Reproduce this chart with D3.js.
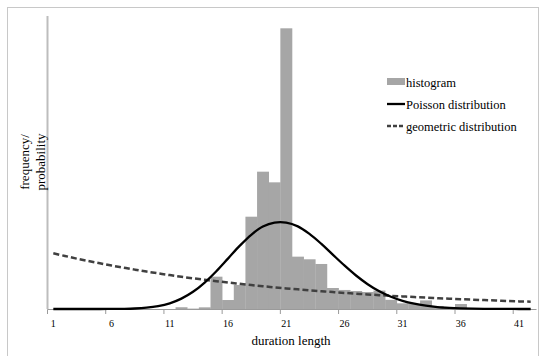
<!DOCTYPE html>
<html>
<head>
<meta charset="utf-8">
<script src="https://cdn.jsdelivr.net/npm/d3@7"></script>
<style>
  body { margin: 0; background: #fff; }
  text { font-family: "Liberation Serif", "Times New Roman", serif; fill: #000; }
</style>
</head>
<body>
<div id="chart"></div>
<script>
var svgWidth = 540;
var svgHeight = 356;

// categories 1..42 (duration length)
var categories = d3.range(1, 43);
var tickLabels = [1, 6, 11, 16, 21, 26, 31, 36, 41];

// histogram (relative frequency)
var histogram = [0, 0, 0, 0, 0, 0, 0, 0, 0, 0, 0, 0.0018, 0.0004, 0.0017, 0.0331, 0.0092,
  0.0246, 0.0945, 0.1406, 0.1297, 0.2874, 0.0536, 0.0509, 0.0461, 0.0215, 0.0195,
  0.0184, 0.0174, 0.0189, 0.0094, 0.0058, 0.0052, 0.0088, 0.0031, 0.0020, 0.0051,
  0.0005, 0, 0, 0, 0, 0];

// Poisson distribution
var poisson = [0, 0, 0, 0, 0, 0.0001, 0.0002, 0.0005, 0.0013, 0.0029, 0.0058, 0.0106,
  0.0176, 0.0271, 0.0387, 0.0516, 0.0646, 0.0760, 0.0844, 0.0884, 0.0884, 0.0846,
  0.0769, 0.0669, 0.0557, 0.0446, 0.0343, 0.0254, 0.0181, 0.0125, 0.0083, 0.0054,
  0.0034, 0.0020, 0.0012, 0.0007, 0.0004, 0.0002, 0.0001, 0.0001, 0, 0];

// geometric distribution
var geometric = [0.0570, 0.0543, 0.0516, 0.0491, 0.0468, 0.0445, 0.0424, 0.0403, 0.0383,
  0.0365, 0.0347, 0.0330, 0.0314, 0.0299, 0.0285, 0.0271, 0.0258, 0.0245, 0.0233,
  0.0222, 0.0211, 0.0201, 0.0191, 0.0182, 0.0173, 0.0165, 0.0157, 0.0149, 0.0142,
  0.0135, 0.0129, 0.0122, 0.0117, 0.0111, 0.0106, 0.0100, 0.0096, 0.0091, 0.0087,
  0.0082, 0.0078, 0.0075];

var svg = d3.select("#chart")
  .append("svg")
  .attr("width", svgWidth)
  .attr("height", svgHeight);

// outer frame
svg.append("rect")
  .attr("x", 7.5).attr("y", 7.5)
  .attr("width", 531).attr("height", 360)
  .attr("fill", "none")
  .attr("stroke", "#c8c8c8");

var xScale = d3.scaleBand()
  .domain(categories)
  .range([47.5, 536.5])
  .padding(0);

var yScale = d3.scaleLinear()
  .domain([0, 0.3])
  .range([309, 16]);

var cx = function(c) { return xScale(c) + xScale.bandwidth() / 2; };

// histogram bars
svg.append("g").selectAll("rect")
  .data(categories)
  .enter()
  .append("rect")
  .attr("x", d => xScale(d))
  .attr("width", xScale.bandwidth() + 0.3)
  .attr("y", (d, i) => yScale(histogram[i]))
  .attr("height", (d, i) => yScale(0) - yScale(histogram[i]))
  .attr("fill", "#a6a6a6");

// y axis line (no ticks)
svg.append("line")
  .attr("x1", 47.5).attr("x2", 47.5)
  .attr("y1", yScale.range()[1]).attr("y2", yScale(0))
  .attr("stroke", "#bdbdbd")
  .attr("stroke-width", 2);

// x axis
var xAxis = svg.append("g");
xAxis.append("line")
  .attr("x1", 47.5).attr("x2", 536.5)
  .attr("y1", 309.5).attr("y2", 309.5)
  .attr("stroke", "#9a9a9a")
  .attr("stroke-width", 1.2);

xAxis.selectAll(".tk")
  .data(tickLabels)
  .enter()
  .append("line")
  .attr("class", "tk")
  .attr("x1", d => xScale(d)).attr("x2", d => xScale(d))
  .attr("y1", 309.5).attr("y2", 314)
  .attr("stroke", "#9a9a9a");

xAxis.selectAll(".tl")
  .data(tickLabels)
  .enter()
  .append("text")
  .attr("class", "tl")
  .attr("x", d => cx(d))
  .attr("y", 327)
  .attr("text-anchor", "middle")
  .style("font-size", "10px")
  .text(d => d);

// lines
var line = function(vals) {
  return d3.line()
    .x((d, i) => cx(categories[i]))
    .y(d => yScale(d))
    .curve(d3.curveCatmullRom.alpha(0.5))(vals);
};

svg.append("path")
  .attr("d", line(geometric))
  .attr("fill", "none")
  .attr("stroke", "#404040")
  .attr("stroke-width", 2.5)
  .attr("stroke-dasharray", "6,3");

svg.append("path")
  .attr("d", line(poisson))
  .attr("fill", "none")
  .attr("stroke", "#000")
  .attr("stroke-width", 2.3);

// legend
var legend = svg.append("g").attr("transform", "translate(387, 82)");
legend.append("rect")
  .attr("x", 0).attr("y", -4)
  .attr("width", 18).attr("height", 7)
  .attr("fill", "#a6a6a6");
legend.append("line")
  .attr("x1", 0).attr("x2", 18)
  .attr("y1", 22).attr("y2", 22)
  .attr("stroke", "#000").attr("stroke-width", 2.3);
legend.append("line")
  .attr("x1", 0).attr("x2", 18)
  .attr("y1", 44).attr("y2", 44)
  .attr("stroke", "#404040").attr("stroke-width", 2.5)
  .attr("stroke-dasharray", "4,2");

var legendNames = ["histogram", "Poisson distribution", "geometric distribution"];
legend.selectAll("text")
  .data(legendNames)
  .enter()
  .append("text")
  .attr("x", 19)
  .attr("y", (d, i) => i * 22 + 4.5)
  .style("font-size", "12.5px")
  .text(d => d);

// axis titles
svg.append("text")
  .attr("x", 291)
  .attr("y", 345)
  .attr("text-anchor", "middle")
  .style("font-size", "13px")
  .text("duration length");

var yTitle = svg.append("text")
  .attr("transform", "translate(0, 162) rotate(-90)")
  .attr("text-anchor", "middle")
  .style("font-size", "13px");
yTitle.append("tspan").attr("x", 0).attr("y", 29).text("frequency/");
yTitle.append("tspan").attr("x", 0).attr("y", 45).text("probability");
</script>
</body>
</html>
